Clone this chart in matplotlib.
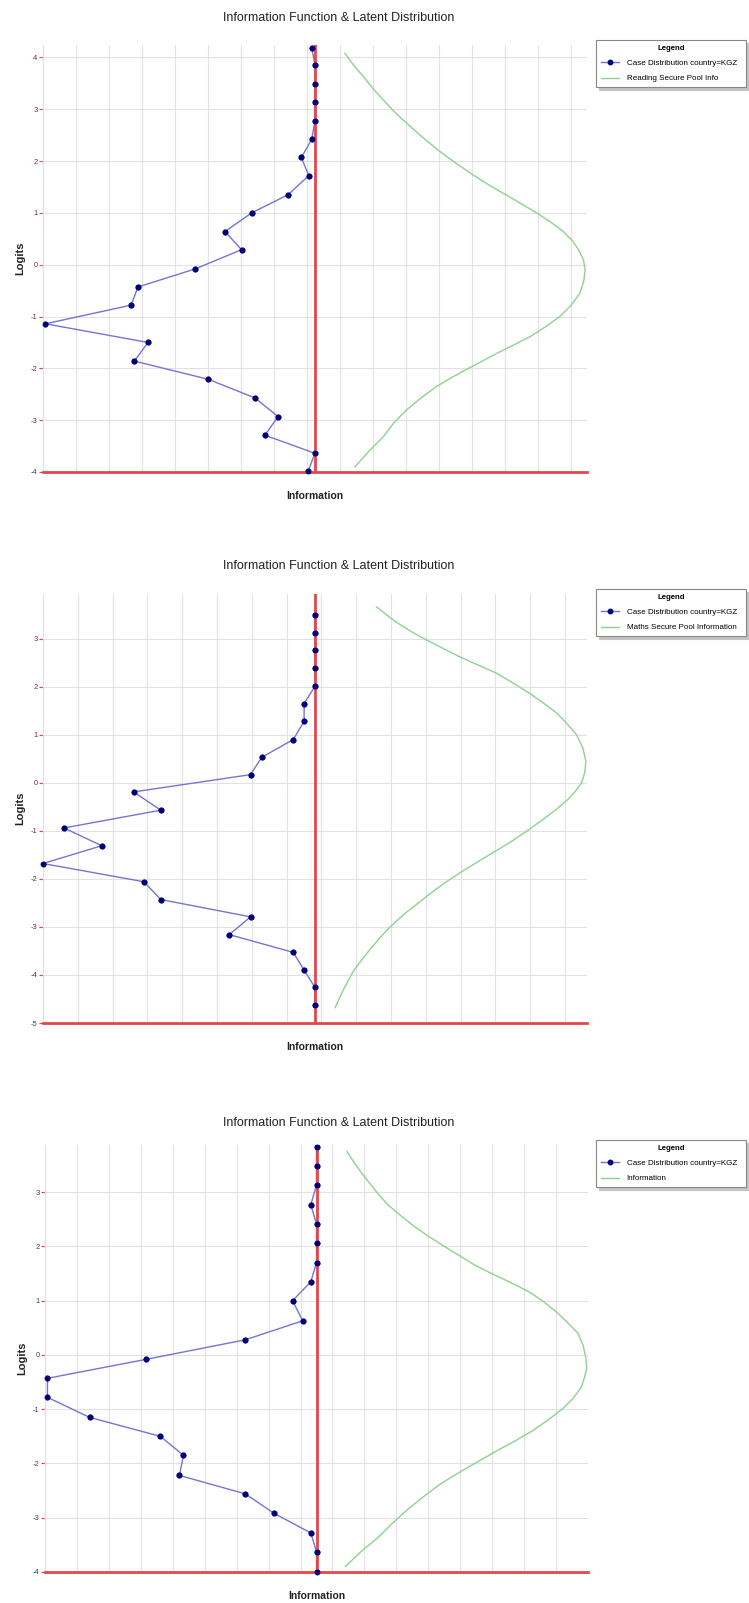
import matplotlib
matplotlib.use("Agg")
import numpy as np
from matplotlib import pyplot as plt

plt.rcParams['font.family'] = ['Liberation Sans', 'DejaVu Sans']
plt.rcParams['axes.unicode_minus'] = False

TITLE = "Information Function & Latent Distribution"
CASE_LABEL = "Case Distribution country=KGZ"

# reading: case distribution (logit, cases) and pool information (logit, info)
reading_logits = [4.19, 3.85, 3.49, 3.14, 2.78, 2.42, 2.07, 1.72, 1.35, 1.00, 0.64, 0.29,
                  -0.08, -0.43, -0.78, -1.14, -1.50, -1.86, -2.21, -2.57, -2.93, -3.29, -3.64, -3.99]
reading_cases = [0.12, 0, 0, 0, 0, 0.12, 0.50, 0.23, 0.99, 2.33, 3.31, 2.70,
                 4.40, 6.51, 6.76, 9.91, 6.14, 6.64, 3.93, 2.21, 1.36, 1.84, 0, 0.26]
reading_info_logits = [4.08, 3.85, 3.63, 3.40, 3.18, 2.95, 2.73, 2.47, 2.21, 1.97, 1.73, 1.53, 1.34,
                       1.17, 1.00, 0.82, 0.64, 0.46, 0.28, 0.09, -0.10, -0.32, -0.55, -0.78, -1.00,
                       -1.20, -1.39, -1.55, -1.71, -1.86, -2.00, -2.17, -2.35, -2.57, -2.80, -3.05,
                       -3.32, -3.60, -3.90]
reading_info = [1.10, 1.42, 1.78, 2.13, 2.51, 2.92, 3.37, 3.93, 4.53, 5.15, 5.82, 6.42, 7.05,
                7.60, 8.15, 8.67, 9.13, 9.47, 9.70, 9.87, 9.93, 9.88, 9.74, 9.42, 9.00,
                8.47, 7.90, 7.30, 6.68, 6.15, 5.64, 5.05, 4.47, 3.90, 3.37, 2.90,
                2.51, 1.98, 1.47]

# maths
maths_logits = [3.50, 3.12, 2.76, 2.39, 2.01, 1.65, 1.28, 0.90, 0.53, 0.17, -0.19, -0.57,
                -0.94, -1.31, -1.68, -2.06, -2.43, -2.79, -3.16, -3.53, -3.90, -4.26, -4.63]
maths_cases = [0, 0, 0, 0, 0, 0.40, 0.40, 0.80, 1.96, 2.37, 6.67, 5.67,
               9.23, 7.84, 10.0, 6.29, 5.67, 2.37, 3.15, 0.80, 0.40, 0, 0]
maths_info_logits = [3.66, 3.50, 3.34, 3.15, 2.97, 2.80, 2.62, 2.45, 2.28, 2.07, 1.86, 1.65, 1.45,
                     1.22, 1.00, 0.72, 0.45, 0.22, 0.00, -0.17, -0.34, -0.55, -0.76, -1.00,
                     -1.24, -1.45, -1.66, -1.83, -2.01, -2.21, -2.42, -2.70, -3.00, -3.23,
                     -3.47, -3.70, -3.92, -4.30, -4.68]
maths_info = [2.27, 2.62, 3.00, 3.53, 4.11, 4.70, 5.33, 6.00, 6.68, 7.30, 7.90, 8.42, 8.89,
              9.28, 9.62, 9.85, 9.96, 9.92, 9.80, 9.58, 9.31, 8.88, 8.39, 7.80,
              7.17, 6.55, 5.94, 5.45, 4.96, 4.46, 3.98, 3.35, 2.76, 2.38,
              2.02, 1.70, 1.41, 1.05, 0.74]

# combined information
all_logits = [3.84, 3.48, 3.13, 2.77, 2.41, 2.07, 1.70, 1.35, 1.00, 0.63, 0.28, -0.08,
              -0.43, -0.78, -1.15, -1.50, -1.85, -2.22, -2.56, -2.92, -3.28, -3.63, -4.00]
all_cases = [0, 0, 0, 0.21, 0, 0, 0, 0.21, 0.88, 0.51, 2.62, 6.27,
             9.91, 9.91, 8.36, 5.75, 4.90, 5.05, 2.62, 1.56, 0.21, 0, 0]
all_info_logits = [3.75, 3.52, 3.29, 3.03, 2.77, 2.57, 2.37, 2.18, 2.00, 1.83, 1.66, 1.52, 1.39,
                   1.27, 1.14, 0.96, 0.77, 0.58, 0.40, 0.18, -0.05, -0.25, -0.42, -0.60, -0.80,
                   -1.00, -1.20, -1.40, -1.58, -1.75, -1.90, -2.05, -2.22, -2.40, -2.62, -2.85,
                   -3.10, -3.35, -3.62, -3.90]
all_info = [1.12, 1.42, 1.76, 2.17, 2.62, 3.10, 3.60, 4.15, 4.71, 5.27, 5.82, 6.37, 6.92,
            7.42, 7.91, 8.42, 8.89, 9.28, 9.63, 9.82, 9.92, 9.95, 9.87, 9.75, 9.45,
            9.05, 8.52, 7.95, 7.33, 6.70, 6.18, 5.65, 5.07, 4.50, 3.92, 3.35,
            2.80, 2.30, 1.65, 1.06]

RED = '#e4464c'
BLUE_LINE = '#7474d4'
NAVY = '#00007a'
GREEN = '#8fd18f'
GRID = '#e2e2e2'

W, H = 749, 1603
fig = plt.figure(figsize=(W / 100, H / 100), dpi=100)


def px_axes(left, top, right, bottom):
    return fig.add_axes([left / W, 1 - bottom / H, (right - left) / W, (bottom - top) / H])


def panel(box, ylim, grid_step, logits, cases, info_logits, info, info_label, title_y):
    left, top, right, bottom = box
    ax = px_axes(left, top, right, bottom)
    ax.set_xlim(-10, 10)
    ax.set_ylim(*ylim)

    ax.set_xticks(np.arange(-10, 10, grid_step))
    ax.set_yticks(np.arange(int(np.ceil(ylim[0])), int(np.floor(ylim[1])) + 1))
    ax.tick_params(axis='x', length=0, labelbottom=False)
    ax.tick_params(axis='y', length=3, width=0.8, color=RED, labelsize=5.5,
                   labelcolor='#444444', pad=1)
    ax.grid(True, color=GRID, lw=0.8, zorder=0)
    ax.set_axisbelow(True)

    for side in ('top', 'right'):
        ax.spines[side].set_visible(False)
    ax.spines['left'].set_color(GRID)
    ax.spines['bottom'].set_color(RED)
    ax.spines['bottom'].set_linewidth(2)

    case_x = -np.array(cases)
    ax.plot(case_x, logits, color=BLUE_LINE, lw=1, marker='o', ms=3.2,
            mfc=NAVY, mec=NAVY, label=CASE_LABEL, zorder=2)
    ax.plot(info, info_logits, color=GREEN, lw=1.0, label=info_label, zorder=2)
    ax.axvline(0, color=RED, lw=2, zorder=3)
    ax.plot(case_x, logits, ls='none', marker='o', ms=3.2, mfc=NAVY, mec=NAVY,
            zorder=4, clip_on=False)

    ax.set_xlabel("Information", fontsize=7.5, fontweight='bold', labelpad=14, color='#222222')
    ax.set_ylabel("Logits", fontsize=8, fontweight='bold', labelpad=4, color='#222222')

    fig.text(339 / W, 1 - title_y / H, TITLE, ha='center', va='center', fontsize=9, color='#222222')

    leg = ax.legend(loc='upper left',
                    bbox_to_anchor=(596 / W, 1 - (top - 5) / H - 0.01, 150 / W, 0.01),
                    bbox_transform=fig.transFigure, mode='expand', fontsize=5.8,
                    title="Legend", title_fontproperties={'size': 5.6, 'weight': 'bold'},
                    frameon=True, fancybox=False, shadow={'color': '#c4c4c4', 'alpha': 1},
                    edgecolor='#888888', borderaxespad=0, labelspacing=0.95,
                    handlelength=2.2, handletextpad=1.0, borderpad=0.6)
    leg.get_frame().set_linewidth(0.8)
    return ax


panel((43, 45, 587, 472), (-4, 4.24), 33 / 27.2, reading_logits, reading_cases,
      reading_info_logits, reading_info, "Reading Secure Pool Info", 18)
panel((43, 594, 587, 1023), (-5, 3.93), 34.8 / 27.2, maths_logits, maths_cases,
      maths_info_logits, maths_info, "Maths Secure Pool Information", 566)
panel((45, 1145, 588, 1572), (-4, 3.87), 32 / 27.2, all_logits, all_cases,
      all_info_logits, all_info, "Information", 1123)

fig.savefig("out.png", dpi=100, facecolor='white')
